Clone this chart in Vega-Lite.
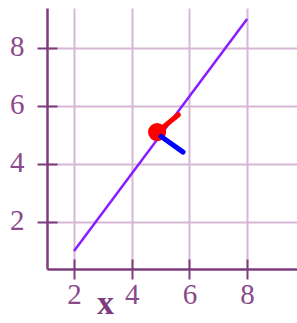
{
  "$schema": "https://vega.github.io/schema/vega-lite/v6.json",
  "width": 250,
  "height": 261,
  "autosize": {"type": "none"},
  "padding": {"left": 47, "top": 8, "right": 0, "bottom": 54},
  "background": "white",
  "config": {"view": {"stroke": null}},
  "datasets": {
    "line": [{"x": 2, "y": 1}, {"x": 8, "y": 9}],
    "red": [{"x": 4.88, "y": 5.1}, {"x": 5.62, "y": 5.7}],
    "dot": [{"x": 4.88, "y": 5.1}],
    "blue": [{"x": 5.02, "y": 4.95}, {"x": 5.78, "y": 4.41}]
  },
  "resolve": {"axis": {"x": "independent", "y": "independent"}},
  "layer": [
    {
      "data": {"name": "line"},
      "mark": {"type": "line", "color": "#8a1cff", "strokeWidth": 2.5},
      "encoding": {
        "x": {"field": "x", "type": "quantitative",
          "scale": {"domain": [1.063, 9.73], "nice": false, "zero": false},
          "axis": {"orient": "bottom", "values": [2, 4, 6, 8], "grid": true, "gridColor": "#d6b8d6", "gridWidth": 2, "gridOpacity": 1,
            "domainColor": "#7d3c7d", "domainWidth": 2.5, "tickColor": "#7d3c7d", "tickWidth": 2, "tickSize": 10,
            "labelFont": "Liberation Serif", "labelFontSize": 29, "labelColor": "#8a4a8a", "labelPadding": 1,
            "title": "x", "titleFont": "Liberation Serif", "titleFontSize": 34, "titleFontWeight": "bold", "titleColor": "#7d3c7d",
            "titleX": 58, "titleY": 44, "titleBaseline": "alphabetic", "titleAlign": "center"}},
        "y": {"field": "y", "type": "quantitative",
          "scale": {"domain": [0.38, 9.38], "nice": false, "zero": false},
          "axis": {"orient": "left", "values": [2, 4, 6, 8], "grid": true, "gridColor": "#d6b8d6", "gridWidth": 2, "gridOpacity": 1,
            "domainColor": "#7d3c7d", "domainWidth": 2.5, "tickColor": "#7d3c7d", "tickWidth": 2, "tickSize": 10,
            "labelFont": "Liberation Serif", "labelFontSize": 29, "labelColor": "#8a4a8a", "labelPadding": 13, "labelOffset": -2,
            "title": null}}
      }
    },
    {
      "data": {"name": "red"},
      "mark": {"type": "line", "color": "#ff0000", "strokeWidth": 5, "strokeCap": "round"},
      "encoding": {
        "x": {"field": "x", "type": "quantitative",
          "scale": {"domain": [1.063, 9.73], "nice": false, "zero": false},
          "axis": {"orient": "bottom", "values": [2, 4, 6, 8], "grid": false, "domain": false, "labels": false, "title": null,
            "tickColor": "#7d3c7d", "tickWidth": 2, "tickSize": -10}},
        "y": {"field": "y", "type": "quantitative",
          "scale": {"domain": [0.38, 9.38], "nice": false, "zero": false},
          "axis": {"orient": "left", "values": [2, 4, 6, 8], "grid": false, "domain": false, "labels": false, "title": null,
            "tickColor": "#7d3c7d", "tickWidth": 2, "tickSize": -10}}
      }
    },
    {
      "data": {"name": "dot"},
      "mark": {"type": "circle", "color": "#ff0000", "size": 330, "opacity": 1},
      "encoding": {
        "x": {"field": "x", "type": "quantitative", "scale": {"domain": [1.063, 9.73], "nice": false, "zero": false}, "axis": null},
        "y": {"field": "y", "type": "quantitative", "scale": {"domain": [0.38, 9.38], "nice": false, "zero": false}, "axis": null}
      }
    },
    {
      "data": {"name": "blue"},
      "mark": {"type": "line", "color": "#0000ff", "strokeWidth": 5, "strokeCap": "round"},
      "encoding": {
        "x": {"field": "x", "type": "quantitative", "scale": {"domain": [1.063, 9.73], "nice": false, "zero": false}, "axis": null},
        "y": {"field": "y", "type": "quantitative", "scale": {"domain": [0.38, 9.38], "nice": false, "zero": false}, "axis": null}
      }
    }
  ]
}
